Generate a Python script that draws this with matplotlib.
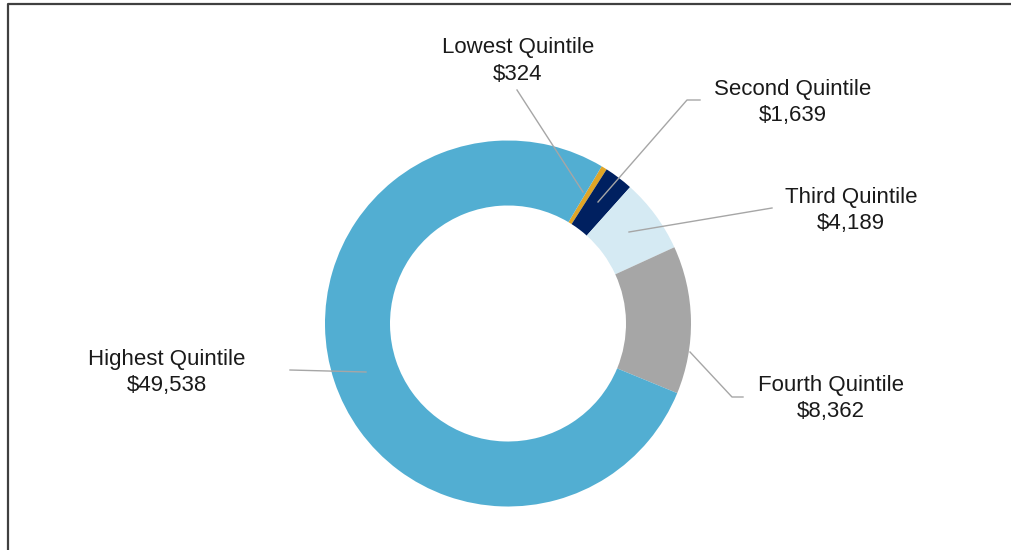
import matplotlib.pyplot as plt

plt.rcParams['font.family'] = ['Liberation Sans', 'DejaVu Sans']

# data
labels = ['Lowest Quintile', 'Second Quintile', 'Third Quintile', 'Fourth Quintile', 'Highest Quintile']
values = [324, 1639, 4189, 8362, 49538]
colors = ['#E0A526', '#002060', '#D5EAF3', '#A6A6A6', '#52AED2']

H = 550
fig = plt.figure(figsize=(10.11, 5.5), dpi=100)
ax = fig.add_axes([0, 0, 1, 1])

cx, cy, r_out, r_in = 508, H - 323.5, 183, 118
ax.pie(values, colors=colors, startangle=59.2, counterclock=False,
       center=(cx, cy), radius=r_out, frame=True,
       wedgeprops=dict(width=r_out - r_in, linewidth=0))
ax.set_xlim(0, 1011)
ax.set_ylim(0, H)
ax.axis('off')

# frame (left and top only)
ax.plot([8, 8, 1011], [0, H - 4, H - 4], color='#404040', lw=1.6, solid_capstyle='butt')

# label positions (text center x, first line y) and leader lines in pixels
lab_pos = [(518, 47), (793, 89), (851, 197), (831, 385), (167, 359)]
leaders = [
    [(517, 90), (583, 192)],
    [(700, 100), (687, 100), (598, 202)],
    [(772, 208), (629, 232)],
    [(743, 397), (732, 397), (690, 352)],
    [(290, 370), (366, 372)],
]

for lab, val, (tx, ty), pts in zip(labels, values, lab_pos, leaders):
    ax.text(tx, H - ty, lab, ha='center', va='center', fontsize=16, color='#1a1a1a')
    ax.text(tx, H - ty - 27, f'${val:,}', ha='center', va='center', fontsize=16, color='#1a1a1a')
    xs = [p[0] for p in pts]
    ys = [H - p[1] for p in pts]
    ax.plot(xs, ys, color='#A6A6A6', lw=1.0)

fig.savefig('out.png', dpi=100)
